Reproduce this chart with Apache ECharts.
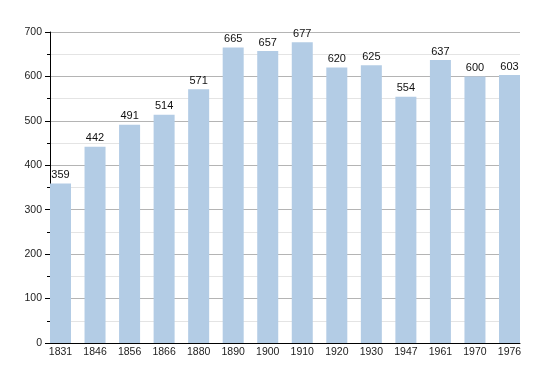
<!DOCTYPE html>
<html>
<head>
<meta charset="utf-8">
<script src="https://cdn.jsdelivr.net/npm/echarts@6/dist/echarts.min.js"></script>
<style>html,body{margin:0;padding:0;background:#fff;}#c{width:550px;height:373px;}</style>
</head>
<body>
<div id="c"></div>
<script>
const years = ['1831','1846','1856','1866','1880','1890','1900','1910','1920','1930','1947','1961','1970','1976'];
const population = [359,442,491,514,571,665,657,677,620,625,554,637,600,603];
const yMin = 0, yMax = 700, yStep = 100;

const chart = echarts.init(document.getElementById('c'), null, {renderer:'canvas'});
const font = 'Liberation Sans, Arial, sans-serif';
chart.setOption({
  animation: false,
  backgroundColor: '#fff',
  grid: [
    {left: 50, right: 30, top: 32, bottom: 30},
    {left: 60.5, right: 40.5, top: 32, bottom: 30}
  ],
  xAxis: [
    {gridIndex: 0, type: 'value', min: 0, max: 1, axisLabel: {show: false}, axisTick: {show: false},
     splitLine: {show: false}, axisLine: {show: true, lineStyle: {color: '#000', width: 1}}},
    {gridIndex: 1, type: 'category', data: years, boundaryGap: false,
     axisLine: {show: false}, axisTick: {show: false},
     axisLabel: {color: '#222', fontSize: 10.5, fontFamily: font, margin: 4, interval: 0}}
  ],
  yAxis: [
    {gridIndex: 0, type: 'value', min: yMin, max: yMax, interval: yStep,
     axisLine: {show: true, lineStyle: {color: '#000', width: 1}},
     axisTick: {show: true, length: 5, lineStyle: {color: '#000'}},
     minorTick: {show: true, splitNumber: 2, length: 3, lineStyle: {color: '#000'}},
     axisLabel: {color: '#222', fontSize: 10.5, fontFamily: font, margin: 8},
     splitLine: {show: true, lineStyle: {color: '#b4b4b4', width: 1}},
     minorSplitLine: {show: true, lineStyle: {color: '#e4e4e4', width: 1}}},
    {gridIndex: 1, type: 'value', min: yMin, max: yMax, show: false, splitLine: {show: false}}
  ],
  series: [{
    type: 'bar',
    xAxisIndex: 1, yAxisIndex: 1,
    data: population,
    barWidth: 21,
    itemStyle: {color: '#b3cce5'},
    label: {show: true, position: 'top', distance: 3, color: '#111', fontSize: 11, fontFamily: font}
  }]
});
</script>
</body>
</html>
